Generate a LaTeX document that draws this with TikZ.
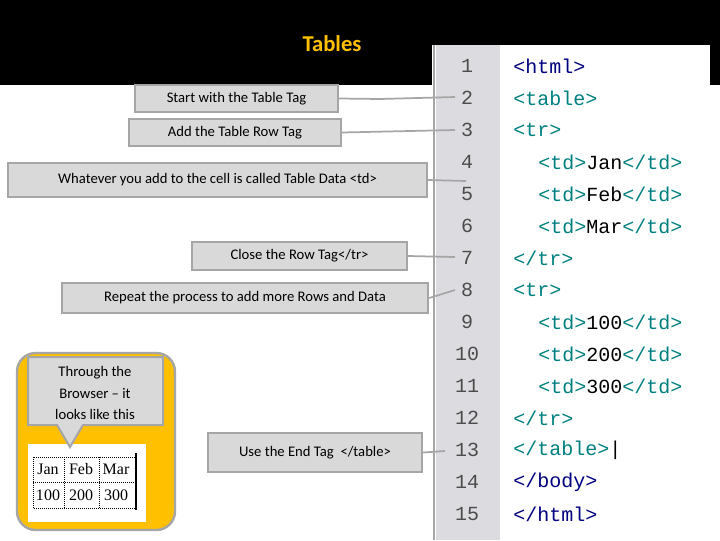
\documentclass[tikz,border=0pt]{standalone}
\usepackage{fontspec}
\setmainfont{Carlito}
\newfontfamily\codefont{Liberation Mono}
\newfontfamily\serifb{Liberation Serif}
\definecolor{gold}{HTML}{FFC000}
\definecolor{boxg}{HTML}{D9D9D9}
\definecolor{bord}{HTML}{A6A6A6}
\definecolor{gut}{HTML}{DCDCE0}
\definecolor{navy}{HTML}{000080}
\definecolor{teal}{HTML}{008080}
\tikzset{
 lab/.style={draw=bord,line width=1.8pt,fill=boxg,inner sep=0pt,font=\fontsize{11}{13}\selectfont,anchor=center},
 conn/.style={draw=bord,line width=1.3pt},
 num/.style={font=\codefont\fontsize{15}{15}\selectfont,text=black!70,anchor=center},
 code/.style={font=\codefont\fontsize{15}{15}\selectfont,anchor=west,inner sep=0pt},
}
\begin{document}
\begin{tikzpicture}[x=0.75pt,y=-0.75pt]
\useasboundingbox (0,0) rectangle (720,540);
\fill[white] (0,0) rectangle (720,540);
\fill[black] (0,0) rectangle (720,85);
\node[font=\bfseries\fontsize{17}{20}\selectfont,text=gold] (title) at (332,44) {Tables};
% code panel
\fill[white] (432,45) rectangle (710,540);
\fill[gut] (436,45) rectangle (500,540);
\draw[bord,line width=1.2pt] (434,45) -- (434,540);
\foreach \i in {1,...,15}{\node[num] (n\i) at (467,{66+32*(\i-1)}) {\i};}
\node[code,text=navy] (c1) at (513,66) {<html>};
\node[code,text=teal] (c2) at (513,98) {<table>};
\node[code,text=teal] (c3) at (513,130) {<tr>};
\node[code] (c4) at (538,162) {\textcolor{teal}{<td>}Jan\textcolor{teal}{</td>}};
\node[code] (c5) at (538,194) {\textcolor{teal}{<td>}Feb\textcolor{teal}{</td>}};
\node[code] (c6) at (538,226) {\textcolor{teal}{<td>}Mar\textcolor{teal}{</td>}};
\node[code,text=teal] (c7) at (513,258) {</tr>};
\node[code,text=teal] (c8) at (513,290) {<tr>};
\node[code] (c9) at (538,322) {\textcolor{teal}{<td>}100\textcolor{teal}{</td>}};
\node[code] (c10) at (538,354) {\textcolor{teal}{<td>}200\textcolor{teal}{</td>}};
\node[code] (c11) at (538,386) {\textcolor{teal}{<td>}300\textcolor{teal}{</td>}};
\node[code,text=teal] (c12) at (513,418) {</tr>};
\node[code,text=teal] (c13) at (513,450) {</table>\textcolor{black}{|}};
\node[code,text=navy] (c14) at (513,482) {</body>};
\node[code,text=navy] (c15) at (513,514) {</html>};
% labels
\node[lab,minimum width=203*0.75pt,minimum height=27*0.75pt] (l1) at (236.5,98.5) {Start with the Table Tag};
\node[lab,minimum width=212*0.75pt,minimum height=27*0.75pt] (l2) at (235,132.5) {Add the Table Row Tag};
\node[lab,minimum width=419*0.75pt,minimum height=34*0.75pt] (l3) at (217.5,180) {Whatever you add to the cell is called Table Data <td>};
\node[lab,minimum width=215*0.75pt,minimum height=28*0.75pt] (l4) at (299.5,256) {Close the Row Tag</tr>};
\node[lab,minimum width=366*0.75pt,minimum height=30*0.75pt] (l5) at (245,298) {Repeat the process to add more Rows and Data};
\node[lab,minimum width=214*0.75pt,minimum height=39*0.75pt] (l6) at (315,452.5) {Use the End Tag~~</table>};
\coordinate (e1) at (455,97); \coordinate (e2) at (455,130);
\coordinate (e3) at (466,181); \coordinate (e4) at (455,257);
\coordinate (e5) at (455,290); \coordinate (e6) at (445,451);
\draw[conn] (l1.east) -- (380,99) -- (e1);
\draw[conn] (l2.east) -- (e2);
\draw[conn] (l3.east) -- (e3);
\draw[conn] (l4.east) -- (e4);
\draw[conn] (l5.east) -- (e5);
\draw[conn] (l6.east) -- (e6);
% browser box
\draw[bord,line width=1.8pt,fill=gold,rounded corners=14pt] (17,353) rectangle (175,530);
\fill[white] (28,444) rectangle (146,522);
\draw[bord,line width=1.5pt,fill=boxg] (28,357) -- (163,357) -- (163,425) -- (83,425) -- (70,447) -- (57,425) -- (28,425) -- cycle;
\node[font=\fontsize{11}{16}\selectfont,align=center] (bt) at (95,393) {Through the\\Browser -- it\\looks like this};
\begin{scope}[font=\serifb\fontsize{12}{12}\selectfont]
\draw[densely dotted,line width=0.5pt] (33,457) rectangle (135,508);
\draw[densely dotted,line width=0.5pt] (33,482) -- (135,482) (64,457) -- (64,508) (99,457) -- (99,508);
\node (t1) at (48,469) {Jan}; \node (t2) at (81,469) {Feb}; \node (t3) at (116,469) {Mar};
\node (t4) at (48,495) {100}; \node (t5) at (81,495) {200}; \node (t6) at (116,495) {300};
\draw[line width=1.5pt] (136,453) -- (136,510);
\end{scope}
\end{tikzpicture}
\end{document}
